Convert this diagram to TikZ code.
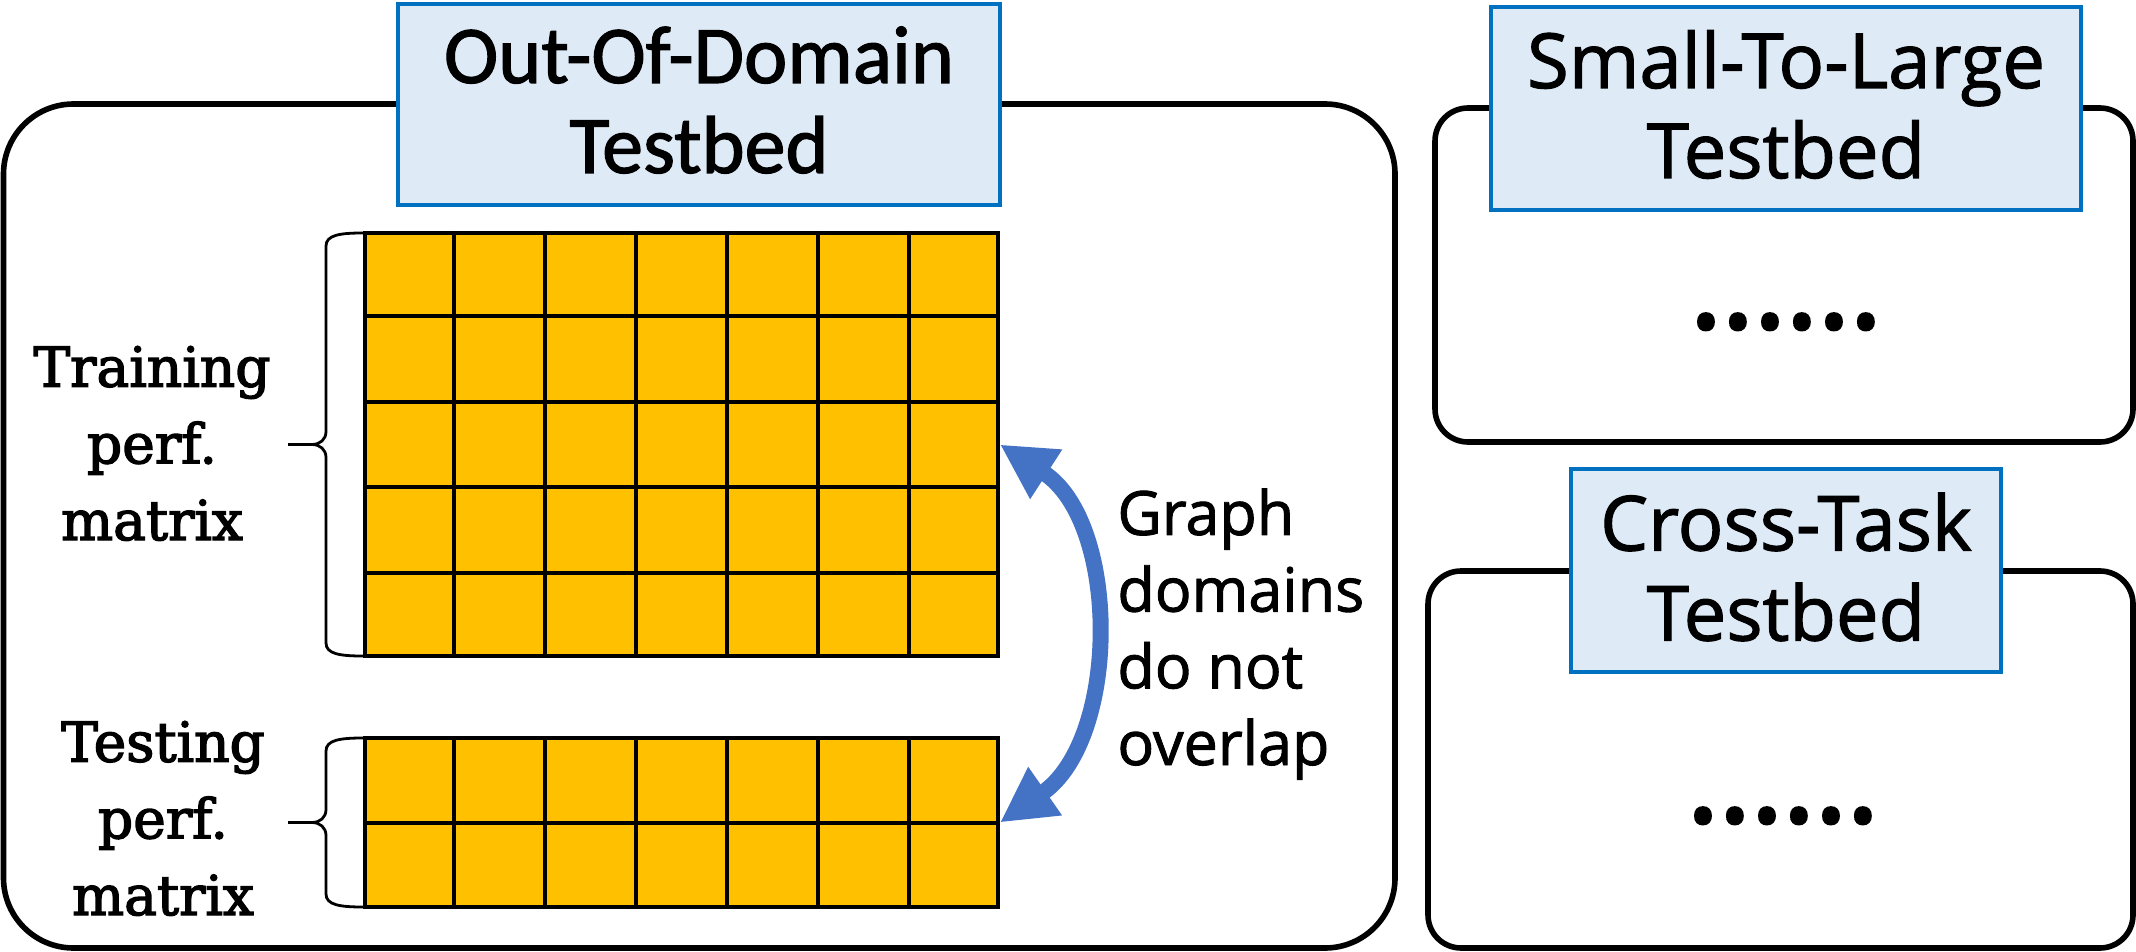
\documentclass[tikz,border=0pt]{standalone}
\usepackage{fontspec}
\usetikzlibrary{arrows.meta,calc}
\newfontfamily\calfont{Carlito}
\newfontfamily\osfont{Open Sans}
\newfontfamily\serfont{DejaVu Serif}
\definecolor{hdrfill}{HTML}{DEEBF7}
\definecolor{hdrline}{HTML}{0070C0}
\definecolor{cellfill}{HTML}{FFC000}
\definecolor{arrowblue}{HTML}{4472C4}
\newcommand\sixdots{.\kern2.7pt.\kern2.7pt.\kern2.7pt.\kern2.7pt.\kern2.7pt.}
\newcommand\mybrace[2]{%
  \begin{scope}[shift={(#1.west)}]
   \draw[bracestyle] (0,-#2) .. controls (-23,-#2) and (-37,{-#2+2}) .. (-37,{-#2+13})
     -- (-37,-13) .. controls (-37,-5) and (-43,0) .. (-51,0) -- (-75,0) -- (-51,0)
     .. controls (-43,0) and (-37,5) .. (-37,13) -- (-37,{#2-13})
     .. controls (-37,{#2-2}) and (-23,#2) .. (0,#2);
  \end{scope}}
\tikzset{
  outerbox/.style={draw=black, line width=2.8pt, fill=white, inner sep=0pt},
  hdrbox/.style={draw=hdrline, fill=hdrfill, line width=2.4pt, inner sep=0pt},
  hdrtextA/.style={inner sep=0pt, align=center, font=\calfont\fontsize{41pt}{45pt}\selectfont\addfontfeature{FakeBold=1.5}},
  hdrtextB/.style={inner sep=0pt, align=center, font=\osfont\fontsize{38pt}{45pt}\selectfont\addfontfeature{FakeBold=1.5}},
  matbox/.style={draw=black, fill=cellfill, line width=2pt, inner sep=0pt},
  gridline/.style={draw=black, line width=2pt},
  bracestyle/.style={draw=black, line width=1.4pt},
  lbltext/.style={inner sep=0pt, align=center, font=\serfont\fontsize{27.5pt}{38.35pt}\selectfont\addfontfeature{FakeBold=2.5}},
  notetext/.style={inner sep=0pt, align=left, font=\osfont\fontsize{30.5pt}{38.35pt}\selectfont\addfontfeature{FakeBold=1.5}},
  dotstext/.style={inner sep=0pt, font=\osfont\fontsize{50pt}{60pt}\selectfont\addfontfeature{FakeBold=6}},
  bluearrow/.style={draw=arrowblue, line width=8pt,
     {Triangle[length=27.5pt,width=27.5pt]}-{Triangle[length=27.5pt,width=27.5pt]}}
}
\begin{document}
\begin{tikzpicture}[x=0.5pt,y=-0.5pt]
\useasboundingbox (0,0) rectangle (2136,952);
% outer boxes
\node[outerbox, rounded corners=35pt, minimum width=695.75pt, minimum height=422pt] (oodbox) at (699.25,526) {};
\node[outerbox, rounded corners=16.5pt, minimum width=349pt, minimum height=167pt] (stlbox) at (1784,275) {};
\node[outerbox, rounded corners=16.5pt, minimum width=352.5pt, minimum height=188.5pt] (ctbox) at (1780.5,759.5) {};
% headers
\node[hdrbox, minimum width=301pt, minimum height=100.5pt] (oodhdr) at (699,104.5) {};
\node[hdrtextA, anchor=base] (oodtxt) at (699,173) {Out-Of-Domain~\\Testbed};
\node[hdrbox, minimum width=295pt, minimum height=101.5pt] (stlhdr) at (1786,108.5) {};
\node[hdrtextB, anchor=base] (stltxt) at (1786,178) {Small-To-Large~\\Testbed};
\node[hdrbox, minimum width=215pt, minimum height=101.5pt] (cthdr) at (1786,570.5) {};
\node[hdrtextB, anchor=base] (cttxt) at (1786,640.5) {Cross-Task~\\Testbed};
% dots
\node[dotstext, anchor=base] (stldots) at (1786,327) {\sixdots};
\node[dotstext, anchor=base] (ctdots) at (1783,821) {\sixdots};
% matrices
\node[matbox, minimum width=316.5pt, minimum height=211.5pt, anchor=north west] (trainmat) at (363,231) {};
\foreach \i in {1,...,6}
  \draw[gridline] ($(trainmat.north west)!{\i/7}!(trainmat.north east)$) -- ($(trainmat.south west)!{\i/7}!(trainmat.south east)$);
\foreach \j in {1,...,4}
  \draw[gridline] ($(trainmat.north west)!{\j/5}!(trainmat.south west)$) -- ($(trainmat.north east)!{\j/5}!(trainmat.south east)$);
\node[matbox, minimum width=316.5pt, minimum height=84.5pt, anchor=north west] (testmat) at (363,736) {};
\foreach \i in {1,...,6}
  \draw[gridline] ($(testmat.north west)!{\i/7}!(testmat.north east)$) -- ($(testmat.south west)!{\i/7}!(testmat.south east)$);
\draw[gridline] (testmat.west) -- (testmat.east);
% braces
\mybrace{trainmat}{211.5}
\mybrace{testmat}{84.5}
% labels
\node[lbltext, anchor=base] (trainlbl) at (152,540) {Training\\perf.\\matrix};
\node[lbltext, anchor=base] (testlbl) at (163,915) {Testing\\perf.\\matrix};
\node[notetext, anchor=base west] (note) at (1117,765) {Graph\\domains\\do not\\overlap};
% arrow
\draw[bluearrow] (trainmat.east) .. controls (1120,522) and (1120,739) .. (testmat.east);
\end{tikzpicture}
\end{document}
